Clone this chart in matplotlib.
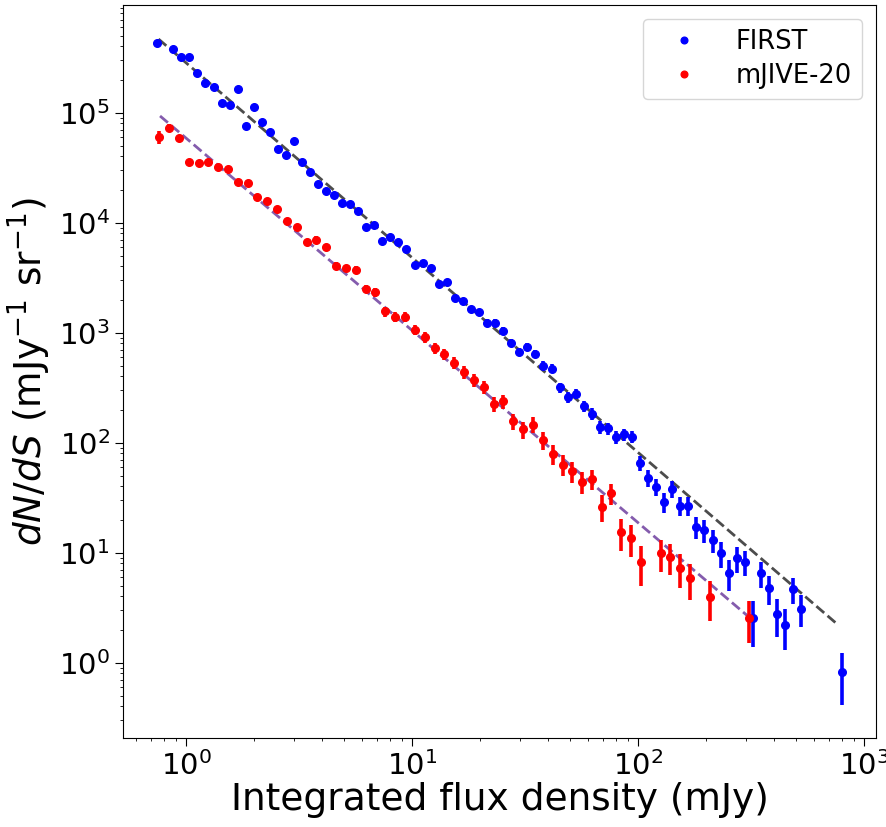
import matplotlib
matplotlib.use("Agg")
import matplotlib.pyplot as plt
import numpy as np

# ------------------------------------------------------------
# FIRST source counts (flux in mJy, dN/dS in mJy^-1 sr^-1)
first_s = [0.742, 0.873, 0.950, 1.034, 1.122, 1.217, 1.326, 1.439, 1.561, 1.693,
           1.837, 1.993, 2.163, 2.346, 2.553, 2.762, 2.996, 3.251, 3.538, 3.838,
           4.164, 4.531, 4.916, 5.318, 5.786, 6.280, 6.811, 7.390, 8.017, 8.698,
           9.436, 10.28, 11.15, 12.10, 13.13, 14.29, 15.50, 16.82, 18.24, 19.80,
           21.48, 23.37, 25.35, 27.51, 29.85, 32.38, 35.13, 38.11, 41.50, 45.03,
           48.86, 53.01, 57.51, 62.40, 67.89, 73.66, 79.91, 86.70, 94.08, 102.0,
           111.1, 120.5, 130.8, 141.9, 153.9, 167.0, 181.2, 196.6, 214.1, 232.3,
           252.0, 273.4, 296.6, 321.8, 350.1, 379.8, 412.1, 447.2, 486.8, 528.1,
           796.7]
first_n = [432700, 381700, 320900, 322800, 231000, 186300, 170200, 123300, 117500, 163200,
           75700, 112000, 81800, 67200, 47100, 41500, 55600, 35900, 28700, 22600,
           19500, 17900, 15100, 14900, 12800, 9140, 9530, 6780, 7340, 6720,
           5730, 4100, 4330, 3850, 2790, 2870, 2060, 1940, 1640, 1540,
           1230, 1230, 1040, 811, 672, 746, 640, 501, 471, 318,
           259, 279, 216, 184, 139, 135, 113, 119, 113, 65.0,
           47.5, 39.8, 28.9, 38.2, 26.8, 26.8, 17.2, 16.0, 13.0, 9.87,
           6.50, 8.89, 8.28, 2.53, 6.50, 4.74, 2.77, 2.20, 4.68, 3.10,
           0.823]
first_err = [9780, 8470, 7440, 7150, 5810, 5010, 4590, 3750, 3510, 3980,
             2600, 3040, 2490, 2170, 1740, 1570, 1740, 1350, 1150, 982,
             876, 805, 710, 678, 602, 488, 479, 388, 387, 356,
             316, 256, 252, 228, 187, 181, 148, 138, 121, 113,
             96.9, 92.9, 82.0, 69.5, 60.8, 61.5, 54.7, 46.4, 43.1, 34.0,
             29.5, 29.4, 24.8, 22.0, 18.3, 17.3, 15.2, 15.0, 14.0, 10.2,
             8.37, 7.36, 6.02, 6.64, 5.34, 5.13, 3.94, 3.65, 3.16, 2.64,
             2.06, 2.31, 2.14, 1.14, 1.74, 1.43, 1.05, 0.898, 1.26, 0.981,
             0.411]

# mJIVE-20 source counts
mjive_s = [0.762, 0.841, 0.931, 1.028, 1.138, 1.255, 1.385, 1.534, 1.693, 1.875,
           2.068, 2.283, 2.535, 2.798, 3.089, 3.420, 3.772, 4.177, 4.624, 5.105,
           5.636, 6.239, 6.881, 7.618, 8.435, 9.312, 10.28, 11.38, 12.60, 13.90,
           15.39, 17.03, 18.81, 20.76, 22.99, 25.35, 28.07, 30.99, 34.31, 37.88,
           41.94, 46.35, 51.10, 56.52, 62.40, 69.08, 76.20, 84.37, 93.11, 103.1,
           126.0, 139.0, 153.9, 170.4, 208.3, 309.8]
mjive_n = [59700, 73100, 58500, 35400, 34900, 35900, 32100, 30970, 23300, 22960,
           17230, 15740, 13400, 10420, 9080, 6630, 7000, 6010, 4020, 3850,
           3740, 2510, 2340, 1560, 1390, 1390, 1065, 914, 721, 636,
           534, 439, 369, 319, 226, 238, 157, 132, 146, 105,
           78.9, 63.2, 54.7, 44.2, 46.8, 26.2, 34.7, 15.3, 13.5, 8.23,
           9.88, 9.14, 7.21, 5.85, 3.98, 2.56]
mjive_err = [7800, 6600, 4700, 2115, 1996, 1927, 1735, 1619, 1337, 1261,
             1040, 946, 829, 695, 618, 502, 491, 432, 336, 313,
             294, 229, 210, 163, 146, 139, 116, 102, 86.2, 77.1,
             67.1, 57.9, 50.5, 44.7, 35.7, 34.9, 27.0, 23.5, 23.5, 19.0,
             15.6, 13.3, 11.8, 10.1, 9.87, 7.02, 7.69, 4.85, 4.34, 3.22,
             3.19, 2.92, 2.47, 2.11, 1.58, 1.04]

# power-law fits (end points)
first_fit_s = [0.755, 769]
first_fit_n = [467000, 2.2]
mjive_fit_s = [0.767, 303]
mjive_fit_n = [93300, 2.7]

# ------------------------------------------------------------
fig = plt.figure(figsize=(8.87, 8.27), dpi=100)
ax = fig.add_axes([0.1387, 0.1076, 0.8489, 0.8864])

ax.errorbar(first_s, first_n, yerr=first_err, fmt='o', color='blue',
            ms=5.5, elinewidth=2.6, capsize=0, zorder=3)
ax.errorbar(mjive_s, mjive_n, yerr=mjive_err, fmt='o', color='red',
            ms=5.5, elinewidth=2.6, capsize=0, zorder=3)

ax.plot(first_fit_s, first_fit_n, '--', color='k', alpha=0.7, lw=2, zorder=2)
ax.plot(mjive_fit_s, mjive_fit_n, '--', color='rebeccapurple', alpha=0.8,
        lw=2, zorder=2)

# legend proxies (dots only)
ax.plot([], [], 'o', color='blue', ms=4.8, label='FIRST')
ax.plot([], [], 'o', color='red', ms=4.8, label='mJIVE-20')

ax.set_xscale('log')
ax.set_yscale('log')
ax.set_xlim(0.526, 1130)
ax.set_ylim(0.2066, 953000)

ax.set_xlabel('Integrated flux density (mJy)', fontsize=27, labelpad=1)
ax.set_ylabel(r'$dN/dS$ (mJy$^{-1}$ sr$^{-1}$)', fontsize=27)
ax.tick_params(axis='both', which='major', labelsize=21, length=6)
ax.legend(loc='upper right', fontsize=18.5, handlelength=2.4,
          handletextpad=0.8, labelspacing=0.3, borderaxespad=0.55)

fig.savefig('out.png', dpi=100)
